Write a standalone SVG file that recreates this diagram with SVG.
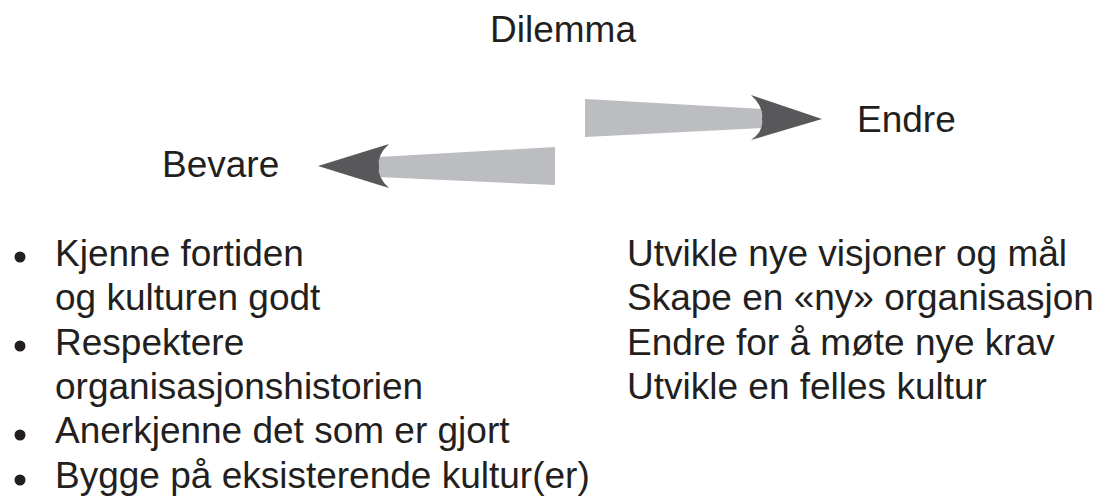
<svg xmlns="http://www.w3.org/2000/svg" width="1096" height="496" viewBox="0 0 1096 496">
  <style>
    text { font-family: "Liberation Sans", Arial, sans-serif; font-size: 37px; fill: #231f20; }
    .shaft { fill: #bcbdc0; }
    .head { fill: #58585a; }
    .bullet { fill: #231f20; }
  </style>
  <rect width="1096" height="496" fill="#ffffff"/>
  <g id="connectors">
    <g id="arrow-endre">
      <polygon class="shaft" points="585,99 763,109 763,128 585,137"/>
      <path class="head" d="M822,119 L751,95 Q764,107 762,119 Q764,131 751,140 Z"/>
    </g>
    <g id="arrow-bevare">
      <polygon class="shaft" points="555,147 378,157 378,177 555,185"/>
      <path class="head" d="M318,166 L389,144 Q377,155 379,166 Q377,177 389,188 Z"/>
    </g>
  </g>
  <g id="title">
    <text x="490" y="42">Dilemma</text>
  </g>
  <g id="node-bevare">
    <text x="162" y="177">Bevare</text>
  </g>
  <g id="node-endre">
    <text x="857" y="132">Endre</text>
  </g>
  <g id="list-bevare">
    <circle class="bullet" cx="20" cy="257" r="5.5"/>
    <text x="55" y="266">Kjenne fortiden</text>
    <text x="55" y="310">og kulturen godt</text>
    <circle class="bullet" cx="20" cy="346" r="5.5"/>
    <text x="55" y="355">Respektere</text>
    <text x="55" y="399">organisasjonshistorien</text>
    <circle class="bullet" cx="20" cy="435" r="5.5"/>
    <text x="55" y="443">Anerkjenne det som er gjort</text>
    <circle class="bullet" cx="20" cy="480" r="5.5"/>
    <text x="55" y="488">Bygge på eksisterende kultur(er)</text>
  </g>
  <g id="list-endre">
    <text x="627" y="266">Utvikle nye visjoner og mål</text>
    <text x="627" y="310">Skape en «ny» organisasjon</text>
    <text x="627" y="355">Endre for å møte nye krav</text>
    <text x="627" y="399">Utvikle en felles kultur</text>
  </g>
</svg>
